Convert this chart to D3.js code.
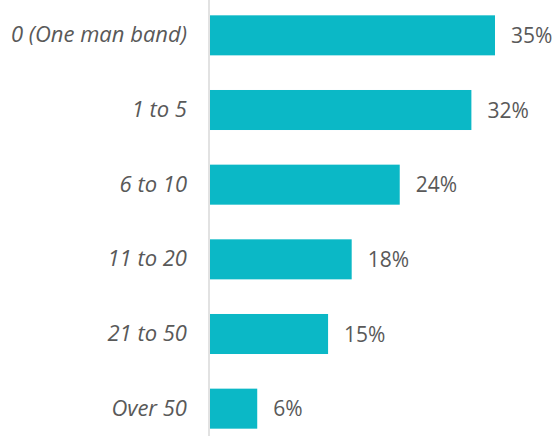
<!DOCTYPE html>
<html>
<head>
<meta charset="utf-8">
<script src="https://cdn.jsdelivr.net/npm/d3@7"></script>
<style>
  body { margin: 0; background: #fff; }
  text { font-family: "Open Sans", sans-serif; fill: #595959; }
</style>
</head>
<body>
<svg id="chart" width="553" height="436"></svg>
<script>
const categories = ["0 (One man band)", "1 to 5", "6 to 10", "11 to 20", "21 to 50", "Over 50"];
const values = [35, 32.1, 23.3, 17.4, 14.5, 5.8];
const valueLabels = ["35%", "32%", "24%", "18%", "15%", "6%"];

const svg = d3.select("#chart"),
      width = +svg.attr("width"),
      height = +svg.attr("height");

const axisX = 209;

// scales
const x = d3.scaleLinear()
    .domain([0, 35])
    .range([axisX + 1, 495]);

const y = d3.scaleBand()
    .domain(categories)
    .range([-2, 446])
    .paddingInner(0.464)
    .paddingOuter(0.232);

// bars
svg.append("g")
  .selectAll("rect")
  .data(values)
  .enter()
  .append("rect")
    .attr("x", x(0))
    .attr("y", (d, i) => y(categories[i]))
    .attr("width", d => x(d) - x(0))
    .attr("height", y.bandwidth())
    .attr("fill", "#0BB8C6");

// value labels
svg.append("g")
  .selectAll("text")
  .data(values)
  .enter()
  .append("text")
    .attr("x", d => x(d) + 16)
    .attr("y", (d, i) => y(categories[i]) + y.bandwidth() / 2)
    .attr("dy", "0.36em")
    .style("font-size", "21px")
    .text((d, i) => valueLabels[i]);

// category axis
const yAxis = svg.append("g")
    .attr("transform", `translate(${axisX},0)`)
    .call(d3.axisLeft(y).tickSize(0).tickPadding(22));

yAxis.select(".domain").remove();
yAxis.selectAll("text")
    .style("font-size", "22px")
    .style("font-style", "italic")
    .attr("fill", "#595959");

svg.append("line")
    .attr("x1", axisX).attr("x2", axisX)
    .attr("y1", 0).attr("y2", height)
    .attr("stroke", "#d9d9d9")
    .attr("stroke-width", 1.5);
</script>
</body>
</html>
